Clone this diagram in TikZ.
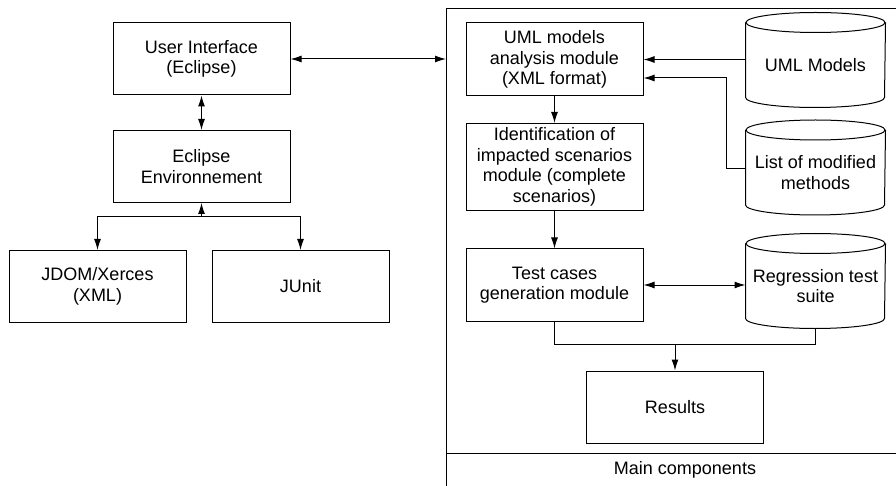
\documentclass[tikz,border=0pt]{standalone}
\usepackage{fontspec}
\setmainfont{Liberation Sans}
\usepackage{tikz}
\usetikzlibrary{shapes.geometric, arrows.meta}
\tikzstyle{block} = [rectangle, minimum width=177pt, minimum height=72pt, text centered, align=center, draw=black, fill=white]
\tikzstyle{store} = [rectangle, minimum width=139pt, minimum height=84pt, text centered, align=center]
\tikzstyle{storeline} = [draw=black]
\tikzstyle{arrow} = [->,>={Latex[length=11pt,width=7pt]}]
\tikzstyle{biarrow} = [<->,>={Latex[length=11pt,width=7pt]}]
% cylinder outline round a store node
\newcommand{\drawstore}[1]{%
  \draw [storeline] (#1.north) ellipse [x radius=69.5pt, y radius=10pt];
  \draw [storeline] (#1.north west) -- ([yshift=10pt]#1.south west)
    arc [start angle=180, end angle=360, x radius=69.5pt, y radius=10pt]
    -- (#1.north east);
}

\begin{document}
\begin{tikzpicture}[node distance=107.5pt, x=1pt, y=-1pt, line width=1pt, font=\fontsize{18}{20.5}\selectfont]
\useasboundingbox (0,0) rectangle (896,486);

% main components frame
\coordinate (ftl) at (446,9);
\draw (446,486) -- (ftl) -- (896,9);
\draw (446,453) -- (896,453);
\node (maincomp) at (685,470) {Main components};

% left side
\node (ui) [block] at (201.5,59) {User Interface\\(Eclipse)};

\node (env) [block, below of=ui] {Eclipse\\Environnement};

\node (jdom) [block, below of=env, xshift=-104pt, yshift=-12.5pt] {JDOM/Xerces\\(XML)};

\node (junit) [block, right of=jdom, xshift=95.5pt] {JUnit};

% main components
\node (ana) [block, minimum height=73pt] at (554.5,59.5) {UML models\\analysis module\\(XML format)};

\node (ident) [block, minimum height=87pt, below of=ana] {Identification of\\impacted scenarios\\module (complete\\scenarios)};

\node (test) [block, below of=ident, yshift=-10.5pt] {Test cases\\generation module};

\node (results) [block, below of=test, xshift=120.5pt, yshift=-14.5pt] {Results};

\node (umlm) [store, right of=ana, xshift=153.5pt, yshift=-5.5pt] {UML Models};

\node (list) [store, below of=umlm] {List of modified\\methods};

\node (reg) [store, below of=list, yshift=-6pt] {Regression test\\suite};

\drawstore{umlm}
\drawstore{list}
\drawstore{reg}

\path (env.south) ++(0,14) coordinate (split);
\path (results.north) ++(0,-26) coordinate (merge);

\draw [biarrow] (ui) -- (env);

\draw [arrow] (split) -- (env);

\draw [arrow] (split) -| (jdom);

\draw [arrow] (split) -| (junit);

\draw [biarrow] (ui.east) -- (ui.east -| ftl);

\draw [arrow] (umlm.west |- ana.east) -- (ana.east);

\draw [arrow] ([yshift=4pt]list.west) -- ++(-19,0) |- ([yshift=-18.5pt]ana.east);

\draw [arrow] (ana) -- (ident);

\draw [arrow] (ident) -- (test);

\draw [biarrow] (test.east) -- (test.east -| reg.west);

\draw (test.south) |- (merge) -| (reg.south);

\draw [arrow] (merge) -- (results);

\end{tikzpicture}
\end{document}
